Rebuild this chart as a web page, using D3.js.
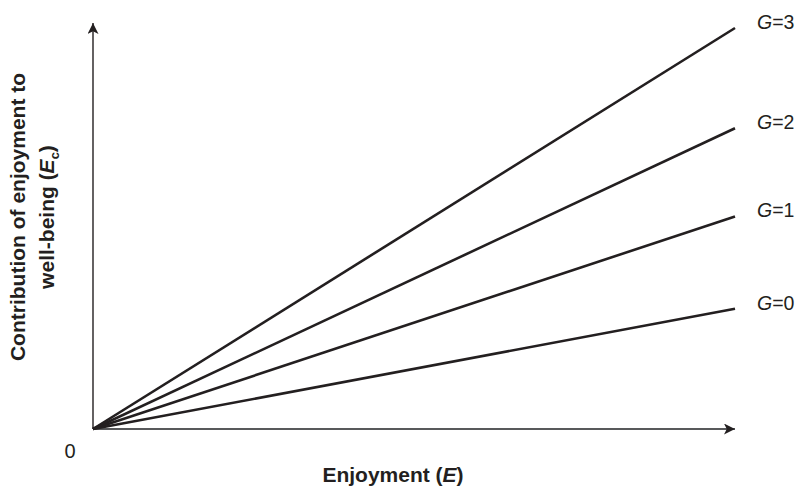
<!DOCTYPE html>
<html>
<head>
<meta charset="utf-8">
<script src="https://cdn.jsdelivr.net/npm/d3@7"></script>
<style>
  html, body { margin: 0; padding: 0; background: #fff; }
  svg text { font-family: "Liberation Sans", Arial, Helvetica, sans-serif; fill: #231f20; }
</style>
</head>
<body>
<div id="chart"></div>
<script>
// data
const groups = ['3', '2', '1', '0'];
const endValues = [1.0, 0.75, 0.53, 0.3];   // Ec at the right end of the E range
const eDomain = [0, 1];
const ecDomain = [0, 1];

const width = 799, height = 490;
const origin = { x: 93, y: 429 };

const svg = d3.select('#chart')
    .append('svg')
    .attr('width', width)
    .attr('height', height);

const xScale = d3.scaleLinear().domain(eDomain).range([origin.x, 735]);
const yScale = d3.scaleLinear().domain(ecDomain).range([origin.y, 28]);

// arrow heads
const defs = svg.append('defs');
['arrowY', 'arrowX'].forEach(id => {
    defs.append('marker')
        .attr('id', id)
        .attr('viewBox', '0 0 10 10')
        .attr('refX', 10).attr('refY', 5)
        .attr('markerWidth', 13).attr('markerHeight', 11)
        .attr('markerUnits', 'userSpaceOnUse')
        .attr('orient', 'auto')
        .append('path')
        .attr('d', 'M0,0 L10,5 L0,10 L2.5,5 Z')
        .attr('fill', '#231f20');
});

// axes
svg.append('line')
    .attr('x1', xScale(0)).attr('y1', yScale(0))
    .attr('x2', xScale(0)).attr('y2', 23)
    .attr('stroke', '#231f20')
    .attr('stroke-width', 1.4)
    .attr('marker-end', 'url(#arrowY)');

svg.append('line')
    .attr('x1', xScale(0)).attr('y1', yScale(0))
    .attr('x2', xScale(1)).attr('y2', yScale(0))
    .attr('stroke', '#58595b')
    .attr('stroke-width', 2)
    .attr('marker-end', 'url(#arrowX)');

// lines
const line = d3.line()
    .x(d => xScale(d[0]))
    .y(d => yScale(d[1]));

groups.forEach((g, i) => {
    svg.append('path')
        .attr('d', line([[eDomain[0], 0], [eDomain[1], endValues[i]]]))
        .attr('fill', 'none')
        .attr('stroke', '#231f20')
        .attr('stroke-width', 2.6);

    const t = svg.append('text')
        .attr('x', xScale(1) + 22)
        .attr('y', yScale(endValues[i]) + 1)
        .attr('font-size', 19.5);
    t.append('tspan').attr('font-style', 'italic').text('G');
    t.append('tspan').text('=' + g);
});

// zero label
svg.append('text')
    .attr('x', 70)
    .attr('y', 458)
    .attr('text-anchor', 'middle')
    .attr('font-size', 20)
    .text('0');

// x title
const xt = svg.append('text')
    .attr('x', 393)
    .attr('y', 482)
    .attr('text-anchor', 'middle')
    .attr('font-size', 21)
    .attr('font-weight', 'bold');
xt.append('tspan').text('Enjoyment (');
xt.append('tspan').attr('font-style', 'italic').text('E');
xt.append('tspan').text(')');

// y title
const yt = svg.append('g')
    .attr('transform', 'translate(0,217) rotate(-90)');
yt.append('text')
    .attr('x', 0).attr('y', 25)
    .attr('text-anchor', 'middle')
    .attr('font-size', 21)
    .attr('font-weight', 'bold')
    .text('Contribution of enjoyment to');
const yt2 = yt.append('text')
    .attr('x', 0).attr('y', 54)
    .attr('text-anchor', 'middle')
    .attr('font-size', 21)
    .attr('font-weight', 'bold');
yt2.append('tspan').text('well-being (');
yt2.append('tspan').attr('font-style', 'italic').text('E');
yt2.append('tspan').attr('font-size', 13).attr('dy', 5).text('c');
yt2.append('tspan').attr('dy', -5).text(')');
</script>
</body>
</html>
